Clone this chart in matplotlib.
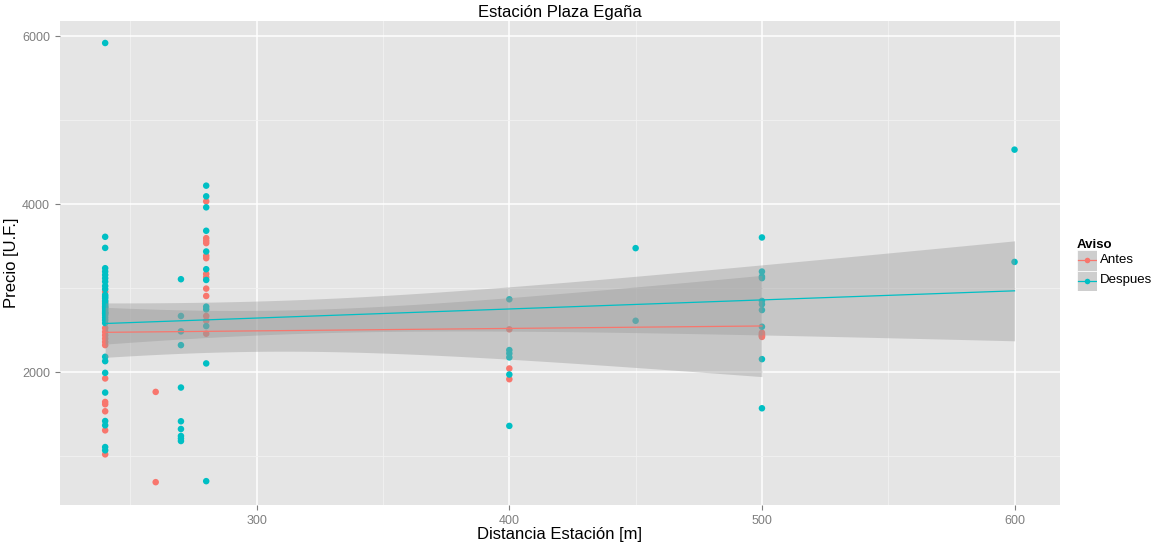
import numpy as np
import matplotlib
matplotlib.use('Agg')
import matplotlib.pyplot as plt

plt.rcParams['font.family'] = ['Liberation Sans', 'DejaVu Sans']

# precios por distancia, aviso "Antes"
antes_dist = [240, 260, 280, 400, 500]
antes_precio = [
    [2958, 2839, 2776, 2525, 2480, 2440, 2400, 2360, 2322, 1925, 1645, 1618, 1534, 1307, 1021],
    [1765, 690],
    [4034, 3596, 3564, 3537, 3385, 3357, 3170, 3130, 2995, 2907, 2669, 2613, 2458],
    [2510, 2044, 1916],
    [2470, 2455, 2440, 2430, 2420],
]

# precios por distancia, aviso "Despues"
despues_dist = [240, 270, 280, 400, 450, 500, 600]
despues_precio = [
    [5920, 3612, 3480, 3238, 3198, 3158, 3118, 3078, 3027, 2990, 2920, 2900, 2880, 2850,
     2820, 2800, 2780, 2760, 2740, 2720, 2705, 2700, 2680, 2650, 2620, 2585, 2183, 2131,
     1992, 1757, 1418, 1367, 1108, 1069],
    [3107, 2669, 2486, 2322, 1817, 1415, 1323, 1240, 1210, 1180],
    [4221, 4094, 3963, 3684, 3437, 3226, 3098, 2780, 2748, 2549, 2104, 702],
    [2868, 2263, 2223, 2176, 1972, 1360],
    [3477, 2612],
    [3604, 3198, 3138, 3120, 2848, 2808, 2740, 2541, 2155, 1570],
    [4650, 3313],
]

grupos = ['Antes', 'Despues']
colores = {'Antes': '#F8766D', 'Despues': '#00BFC4'}


def flatten(dists, precios):
    x = np.concatenate([[d] * len(p) for d, p in zip(dists, precios)]).astype(float)
    y = np.concatenate([np.array(p, dtype=float) for p in precios])
    return x, y


def t_quantile(df, z=1.959964):
    # Cornish-Fisher approx of the 97.5% t quantile
    return z + (z**3 + z) / (4 * df) + (5 * z**5 + 16 * z**3 + 3 * z) / (96 * df**2)


def lm_band(x, y, n_grid=80):
    n = len(x)
    b, a = np.polyfit(x, y, 1)
    resid = y - (a + b * x)
    s = np.sqrt(np.sum(resid**2) / (n - 2))
    sxx = np.sum((x - x.mean())**2)
    xg = np.linspace(x.min(), x.max(), n_grid)
    fit = a + b * xg
    se = s * np.sqrt(1.0 / n + (xg - x.mean())**2 / sxx)
    t = t_quantile(n - 2)
    return xg, fit, fit - t * se, fit + t * se


datos = {
    'Antes': flatten(antes_dist, antes_precio),
    'Despues': flatten(despues_dist, despues_precio),
}

fig = plt.figure(figsize=(11.52, 5.42), dpi=100)
ax = fig.add_axes([59.7 / 1152, 1 - 505 / 542, (1060 - 59.7) / 1152, (505 - 21) / 542])
ax.set_facecolor('#E5E5E5')

# grid
ax.set_xlim(222, 618)
ax.set_ylim(418, 6182)
ax.set_xticks([300, 400, 500, 600])
ax.set_xticks([250, 350, 450, 550], minor=True)
ax.set_yticks([2000, 4000, 6000])
ax.set_yticks([1000, 3000, 5000], minor=True)
ax.grid(which='major', color='white', linewidth=1.1)
ax.grid(which='minor', color='#F2F2F2', linewidth=0.6)
ax.set_axisbelow(True)
for sp in ax.spines.values():
    sp.set_visible(False)
ax.tick_params(which='major', colors='#7F7F7F', labelsize=9, length=3.5, width=0.8)
ax.tick_params(which='minor', length=0)

# points
for g in grupos:
    x, y = datos[g]
    ax.scatter(x, y, s=22, color=colores[g], edgecolors='none', zorder=3)

# regression lines with CI bands
for g in grupos:
    x, y = datos[g]
    xg, fit, lo, hi = lm_band(x, y)
    ax.fill_between(xg, lo, hi, color='#999999', alpha=0.4, linewidth=0, zorder=4)
    ax.plot(xg, fit, color=colores[g], linewidth=0.9, zorder=5)

ax.set_title('Estación Plaza Egaña', fontsize=12, pad=3)
ax.set_xlabel('Distancia Estación [m]', fontsize=12, labelpad=0)
ax.set_ylabel('Precio [U.F.]', fontsize=12, labelpad=2)

# legend
fig.text(1077 / 1152, 1 - 245 / 542, 'Aviso', fontsize=9.5, fontweight='bold', va='center')
key_ax = fig.add_axes([1077 / 1152, 1 - 291 / 542, 20 / 1152, 41 / 542])
key_ax.set_xlim(0, 1)
key_ax.set_ylim(0, 2)
key_ax.axis('off')
for i, g in enumerate(grupos):
    yc = 1.5 - i
    key_ax.add_patch(plt.Rectangle((0, yc - 0.5), 1, 1, facecolor='#CECECE', edgecolor='white', linewidth=0.5))
    key_ax.plot([0.05, 0.95], [yc, yc], color=colores[g], linewidth=0.9)
    key_ax.plot([0.5], [yc], marker='o', markersize=4, color=colores[g], markeredgewidth=0)
    fig.text(1100 / 1152, 1 - (260 + 20 * i) / 542, g, fontsize=9.5, va='center')

fig.savefig('out.png', dpi=100)
